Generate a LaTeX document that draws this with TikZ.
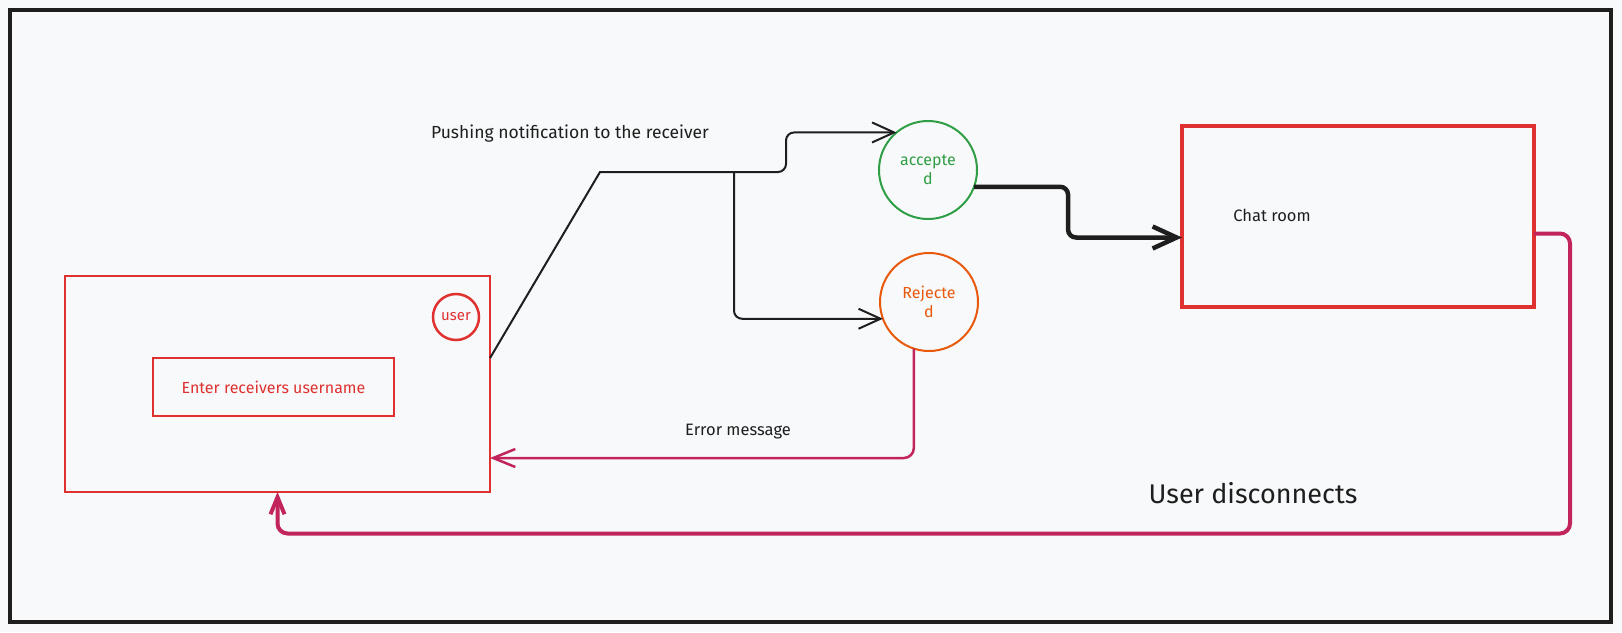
\documentclass[tikz,border=0pt]{standalone}
\usepackage{fontspec}
\setmainfont{Fira Sans}
\usetikzlibrary{arrows.meta,calc}
\definecolor{paper}{HTML}{F8F9FA}
\definecolor{ink}{HTML}{1E1E1E}
\definecolor{boxred}{HTML}{E03131}
\definecolor{okgreen}{HTML}{2F9E44}
\definecolor{noorange}{HTML}{E8590C}
\definecolor{backpink}{HTML}{C2255C}
\tikzset{
  redbox/.style={draw=boxred, line width=2.5pt, inner sep=0pt, outer sep=0pt},
  state/.style={circle, draw, line width=2pt, inner sep=0pt, outer sep=0pt, minimum size=98pt, align=center, font=\fontsize{16}{19}\selectfont},
  note/.style={text=ink, font=\fontsize{16.5}{19}\selectfont},
  link/.style={draw=ink, line width=2pt, rounded corners=8pt, -{Straight Barb[length=22pt,width=20pt]}},
  backlink/.style={draw=backpink, line width=2.5pt, rounded corners=10pt, -{Straight Barb[length=22pt,width=18pt]}},
}

\begin{document}
\begin{tikzpicture}[x=1pt,y=-1pt]
  \useasboundingbox (0,0) rectangle (1622,632);
  \fill[paper] (0,0) rectangle (1622,632);

  % CADRE
  \draw[ink, line width=4pt] (10,10) rectangle (1611,622);

  % BOITES
  \node[redbox, minimum width=425pt, minimum height=216pt] (userbox) at (277.5,384) {};
  \node[redbox, line width=2pt, minimum width=241pt, minimum height=58pt, text=boxred, font=\fontsize{16}{19}\selectfont] (entry) at (273.5,387) {Enter receivers username};
  \node[circle, draw=boxred, line width=2.5pt, minimum size=46pt, inner sep=0pt, text=boxred, font=\fontsize{15}{17}\selectfont] (user) at (456,317) {user};
  \node[redbox, line width=4.5pt, minimum width=352pt, minimum height=181pt] (chat) at (1358,216.5) {};
  \node[note] (chatlabel) at (1272,215) {Chat room};

  % ETATS
  \node[state, draw=okgreen, text=okgreen] (accepted) at (928,170) {accepte\\d};
  \node[state, draw=noorange, text=noorange] (rejected) at (929,302) {Rejecte\\d};

  % FLECHES
  \coordinate (rise) at (600,172);
  \coordinate (fork) at (734,172);
  \draw[ink, line width=2pt] ($(userbox.north east)!0.38!(userbox.south east)$) -- (rise) -- (fork);
  \draw[link] (fork) -- ++(52,0) |- (accepted.130);
  \draw[link] (fork) |- (rejected.200);
  \draw[link, line width=4.5pt, -{Straight Barb[length=24pt,width=22pt]}] (accepted.-20) -- ++(94,0) |- ([yshift=-21pt]chat.west);
  \draw[backlink] (rejected.-108) |- ([yshift=-74pt]userbox.east);
  \draw[backlink, line width=4pt, -{Straight Barb[length=17pt,width=14pt]}] ([yshift=-17pt]chat.east) -- ++(36,0) -- ++(0,300) -| (userbox.south);

  % TEXTES
  \node[note, font=\fontsize{17.5}{20}\selectfont] (pushlabel) at (570,134) {Pushing notification to the receiver};
  \node[note] (errorlabel) at (738,432) {Error message};
  \node[note, font=\fontsize{27}{31}\selectfont] (quitlabel) at (1253,493) {User disconnects};
\end{tikzpicture}
\end{document}
